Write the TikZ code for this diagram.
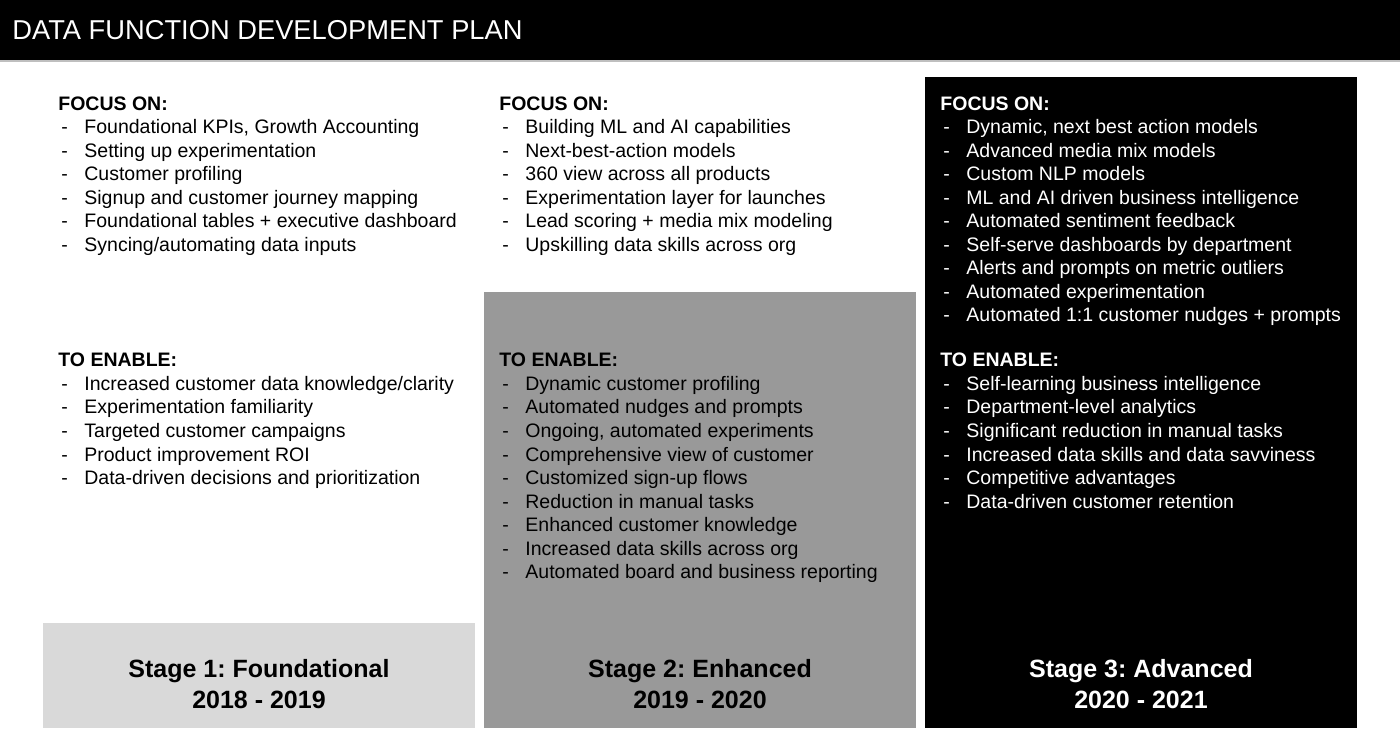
\documentclass[tikz,border=0pt]{standalone}
\usepackage{fontspec}
\setmainfont{Liberation Sans}
\frenchspacing
\definecolor{stageone}{HTML}{D9D9D9}
\definecolor{stagetwo}{HTML}{999999}
\definecolor{rulegray}{HTML}{BFBFBF}
\tikzset{
  body/.style={anchor=base west, inner sep=0pt, font=\fontsize{9.75}{11.75}\selectfont},
  head/.style={anchor=base west, inner sep=0pt, font=\fontsize{9.75}{11.75}\selectfont\bfseries},
  stagelabel/.style={anchor=base, inner sep=0pt, font=\fontsize{12.5}{15}\selectfont\bfseries},
  titletext/.style={anchor=base west, inner sep=0pt, text=white, font=\fontsize{13.65}{16}\selectfont},
}
\begin{document}
\begin{tikzpicture}[x=0.5pt,y=-0.5pt]
\useasboundingbox (0,0) rectangle (1400,742);
\fill[white] (0,0) rectangle (1400,742);
% title bar
\fill[black] (0,0) rectangle (1400,60.5);
\fill[rulegray] (0,60.5) rectangle (1400,62);
\node[titletext] (title) at (12,40) {DATA FUNCTION DEVELOPMENT PLAN};
% boxes
\fill[stageone] (43,623) rectangle (475,728);
\fill[stagetwo] (484,292) rectangle (916,728);
\fill[black] (925,77) rectangle (1357,728);

% ---------- column 1 ----------
\node[head] (h1f) at (58,110.5) {FOCUS ON:};
\foreach \t [count=\i] in {{Foundational KPIs, Growth Accounting},Setting up experimentation,Customer profiling,Signup and customer journey mapping,Foundational tables + executive dashboard,Syncing/automating data inputs}{
  \node[body] (c1fd\i) at (61,{110.5+23.5*\i}) {-};
  \node[body] (c1ft\i) at (84,{110.5+23.5*\i}) {\t};
}
\node[head] (h1e) at (58,367) {TO ENABLE:};
\foreach \t [count=\i] in {Increased customer data knowledge/clarity,Experimentation familiarity,Targeted customer campaigns,Product improvement ROI,Data-driven decisions and prioritization}{
  \node[body] (c1ed\i) at (61,{367+23.5*\i}) {-};
  \node[body] (c1et\i) at (84,{367+23.5*\i}) {\t};
}
\node[stagelabel] (s1a) at (259,677) {Stage 1: Foundational};
\node[stagelabel] (s1b) at (259,708) {2018 - 2019};

% ---------- column 2 ----------
\node[head] (h2f) at (499,110.5) {FOCUS ON:};
\foreach \t [count=\i] in {Building ML and AI capabilities,Next-best-action models,360 view across all products,Experimentation layer for launches,Lead scoring + media mix modeling,Upskilling data skills across org}{
  \node[body] (c2fd\i) at (502,{110.5+23.5*\i}) {-};
  \node[body] (c2ft\i) at (525,{110.5+23.5*\i}) {\t};
}
\node[head] (h2e) at (499,367) {TO ENABLE:};
\foreach \t [count=\i] in {Dynamic customer profiling,Automated nudges and prompts,{Ongoing, automated experiments},Comprehensive view of customer,Customized sign-up flows,Reduction in manual tasks,Enhanced customer knowledge,Increased data skills across org,Automated board and business reporting}{
  \node[body] (c2ed\i) at (502,{367+23.5*\i}) {-};
  \node[body] (c2et\i) at (525,{367+23.5*\i}) {\t};
}
\node[stagelabel] (s2a) at (700,677) {Stage 2: Enhanced};
\node[stagelabel] (s2b) at (700,708) {2019 - 2020};

% ---------- column 3 ----------
\begin{scope}[every node/.append style={text=white}]
\node[head] (h3f) at (940,110.5) {FOCUS ON:};
\foreach \t [count=\i] in {{Dynamic, next best action models},Advanced media mix models,Custom NLP models,ML and AI driven business intelligence,Automated sentiment feedback,Self-serve dashboards by department,Alerts and prompts on metric outliers,Automated experimentation,Automated 1:1 customer nudges + prompts}{
  \node[body] (c3fd\i) at (943,{110.5+23.5*\i}) {-};
  \node[body] (c3ft\i) at (966,{110.5+23.5*\i}) {\t};
}
\node[head] (h3e) at (940,367) {TO ENABLE:};
\foreach \t [count=\i] in {Self-learning business intelligence,Department-level analytics,Significant reduction in manual tasks,Increased data skills and data savviness,Competitive advantages,Data-driven customer retention}{
  \node[body] (c3ed\i) at (943,{367+23.5*\i}) {-};
  \node[body] (c3et\i) at (966,{367+23.5*\i}) {\t};
}
\node[stagelabel] (s3a) at (1141,677) {Stage 3: Advanced};
\node[stagelabel] (s3b) at (1141,708) {2020 - 2021};
\end{scope}
\end{tikzpicture}
\end{document}
